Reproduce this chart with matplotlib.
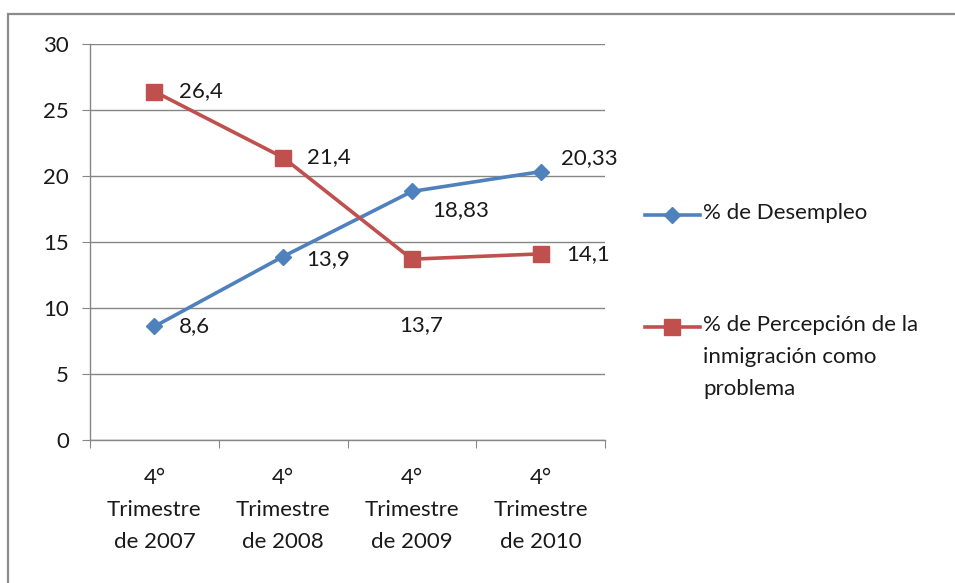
import matplotlib
matplotlib.use("Agg")
import matplotlib.pyplot as plt
from matplotlib.lines import Line2D
from matplotlib.patches import Rectangle

# data
categories = ["4°\nTrimestre\nde 2007", "4°\nTrimestre\nde 2008",
              "4°\nTrimestre\nde 2009", "4°\nTrimestre\nde 2010"]
desempleo = [8.6, 13.9, 18.83, 20.33]
percepcion = [26.4, 21.4, 13.7, 14.1]
desempleo_labels = ["8,6", "13,9", "18,83", "20,33"]
percepcion_labels = ["26,4", "21,4", "13,7", "14,1"]
series_names = ["% de Desempleo", "% de Percepción de la\ninmigración como\nproblema"]
yticks = [0, 5, 10, 15, 20, 25, 30]

BLUE = "#4F81BD"
RED = "#C0504D"
GRID = "#868686"
FS = 16
LS = 1.75

plt.rcParams['font.family'] = ['Lato', 'DejaVu Sans']

W, H = 955, 583
fig = plt.figure(figsize=(W / 100, H / 100), dpi=100)

# outer chart border
fig.patches.append(Rectangle((8 / W, -0.02), 1.1, (H - 14) / H + 0.02,
                             transform=fig.transFigure, fill=False,
                             edgecolor="#8c8c8c", lw=1.6))

ax = fig.add_axes([90 / W, (H - 440) / H, 515 / W, 396 / H])
x = list(range(len(categories)))

ax.plot(x, desempleo, color=BLUE, lw=2.6, marker="D", ms=8.5,
        markerfacecolor=BLUE, markeredgecolor=BLUE, zorder=4, clip_on=False)
ax.plot(x, percepcion, color=RED, lw=2.6, marker="s", ms=11,
        markerfacecolor=RED, markeredgecolor=RED, zorder=4, clip_on=False)

# data labels (pixel offsets from each point)
blue_off = [(25, 0), (23, -3), (20, -19), (20, 14)]
red_off = [(25, 0), (24, 0), (-13, -66), (26, 0)]
for xi, v, lab, (dx, dy) in zip(x, desempleo, desempleo_labels, blue_off):
    ax.annotate(lab, (xi, v), xytext=(dx * 0.72, dy * 0.72), textcoords="offset points",
                ha="left", va="center", fontsize=FS, color="#1a1a1a")
for xi, v, lab, (dx, dy) in zip(x, percepcion, percepcion_labels, red_off):
    ax.annotate(lab, (xi, v), xytext=(dx * 0.72, dy * 0.72), textcoords="offset points",
                ha="left", va="center", fontsize=FS, color="#1a1a1a")

ax.set_xlim(-0.5, len(categories) - 0.5)
ax.set_ylim(0, 30)
ax.set_yticks(yticks)
ax.set_yticklabels([str(t) for t in yticks], fontsize=FS, color="#1a1a1a")
ax.yaxis.grid(True, color=GRID, lw=1)
ax.set_axisbelow(True)

# category labels between boundary ticks
ax.set_xticks([i - 0.5 for i in range(len(categories) + 1)])
ax.set_xticklabels([])
ax.set_xticks(x, minor=True)
ax.set_xticklabels(categories, minor=True, fontsize=FS, color="#1a1a1a")
for lbl in ax.get_xticklabels(minor=True):
    lbl.set_linespacing(LS)
ax.tick_params(axis="x", which="major", length=6, color=GRID, direction="out")
ax.tick_params(axis="x", which="minor", length=0, pad=20)
ax.tick_params(axis="y", length=6, color=GRID, pad=9)

for s in ["top", "right"]:
    ax.spines[s].set_visible(False)
for s in ["left", "bottom"]:
    ax.spines[s].set_color(GRID)
    ax.spines[s].set_linewidth(1)

# gridlines extend out past the y axis like the tick marks
for t in yticks:
    ax.add_line(Line2D([82 / W, 90 / W], [(H - 440 + t * 396 / 30) / H] * 2,
                       transform=fig.transFigure, color=GRID, lw=1))

# manual legend
leg = [(BLUE, "D", 8.5, 215), (RED, "s", 11, 327)]
for (c, m, ms, py), name in zip(leg, series_names):
    yf = (H - py) / H
    fig.add_artist(Line2D([645 / W, 700 / W], [yf, yf], transform=fig.transFigure,
                          color=c, lw=2.6))
    fig.add_artist(Line2D([672 / W], [yf], transform=fig.transFigure, color=c,
                          marker=m, ms=ms, markeredgecolor=c))
    fig.text(703 / W, (H - py + 12) / H, name, fontsize=FS, color="#1a1a1a",
             ha="left", va="top", linespacing=LS)

fig.savefig("out.png", dpi=100)
